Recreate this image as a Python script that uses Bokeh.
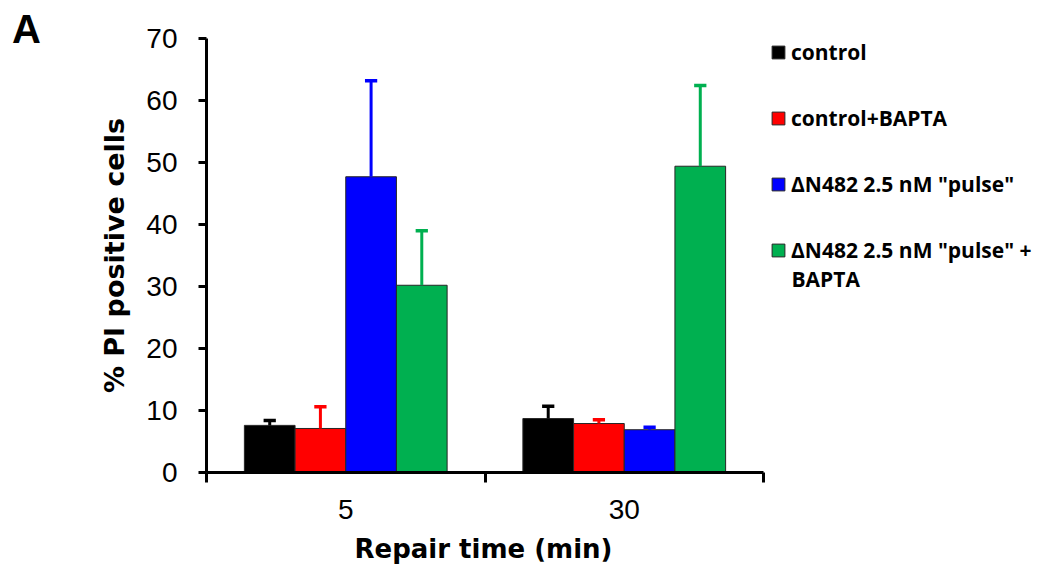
from bokeh.plotting import figure
from bokeh.layouts import row
from bokeh.models import (ColumnDataSource, FixedTicker, Legend, LegendItem,
                          Range1d, Div, Title, Label)
from bokeh.embed import file_html
from bokeh.resources import INLINE

# Repair time categories (minutes)
repair_times = ["5", "30"]

# Series names (legend lines), colours and values (% PI positive cells, mean and SD)
series_names = ["control", "control+BAPTA", 'ΔN482 2.5 nM "pulse"',
                'ΔN482 2.5 nM "pulse" +']
last_name_wrap = "BAPTA"
series_colors = ["#000000", "#FF0000", "#0000FF", "#00B050"]

control = [7.6, 8.7]
control_err = [0.8, 2.0]
control_bapta = [7.1, 7.9]
control_bapta_err = [3.5, 0.6]
pulse = [47.7, 6.9]
pulse_err = [15.5, 0.4]
pulse_bapta = [30.2, 49.4]
pulse_bapta_err = [8.8, 13.0]

y_ticks = [0, 10, 20, 30, 40, 50, 60, 70]

series_values = [control, control_bapta, pulse, pulse_bapta]
series_errors = [control_err, control_bapta_err, pulse_err, pulse_bapta_err]

BAR_W = 0.182
CAP_W = 0.044
PANEL_W = 40            # width of the strip holding the panel letter
FIG_W = 1059 - PANEL_W
BORDER_L = 206 - PANEL_W
AXIS_PX = 557           # pixel length of the two category slots
# the frame runs to the right edge so the legend sits inside it;
# the x axis itself is bounded to the two categories
X_END = 2 * (FIG_W - BORDER_L) / AXIS_PX

LEGEND_FONT = dict(text_font="Open Sans", text_font_style="bold",
                   text_font_size="21px", text_color="black")

p = figure(width=FIG_W, height=576, x_range=Range1d(0, X_END),
           y_range=Range1d(0, 70),
           output_backend="svg", toolbar_location=None,
           min_border_left=BORDER_L, min_border_right=0,
           min_border_top=38, min_border_bottom=104)
p.outline_line_color = None
p.xgrid.visible = False
p.ygrid.visible = False
p.background_fill_color = "white"
p.border_fill_color = "white"

legend_items = []
for i, (name, color, vals, errs) in enumerate(zip(series_names, series_colors,
                                                   series_values, series_errors)):
    xs = [k + 0.5 + (i - 1.5) * BAR_W for k in range(len(repair_times))]
    tops = [v + e for v, e in zip(vals, errs)]
    src = ColumnDataSource(dict(x=xs, top=vals, err_top=tops,
                                cl=[x - CAP_W / 2 for x in xs],
                                cr=[x + CAP_W / 2 for x in xs]))
    r = p.vbar(x="x", top="top", width=BAR_W, source=src, fill_color=color,
               line_color="#262626", line_width=1)
    p.segment(x0="x", y0="top", x1="x", y1="err_top", source=src,
              line_color=color, line_width=3)
    p.segment(x0="cl", y0="err_top", x1="cr", y1="err_top", source=src,
              line_color=color, line_width=3.5)
    legend_items.append(LegendItem(label=name, renderers=[r]))

# y axis
ya = p.yaxis[0]
ya.ticker = FixedTicker(ticks=y_ticks)
ya.minor_tick_line_color = None
ya.major_tick_out = 8
ya.major_tick_in = 0
ya.major_tick_line_width = 3
ya.axis_line_width = 3
ya.major_label_text_font = "Liberation Sans"
ya.major_label_text_font_size = "28px"
ya.major_label_text_color = "black"
ya.major_label_standoff = 21
ya.axis_label = "% PI positive cells"
ya.axis_label_text_font = "DejaVu Sans"
ya.axis_label_text_font_style = "bold"
ya.axis_label_text_font_size = "27px"
ya.axis_label_text_color = "black"
ya.axis_label_standoff = 13

# x axis: labels at group centres, ticks at group boundaries
xa = p.xaxis[0]
xa.bounds = (0, 2)
xa.ticker = FixedTicker(ticks=[0.5, 1.5], minor_ticks=[0, 1, 2])
xa.major_label_overrides = {0.5: repair_times[0], 1.5: repair_times[1]}
xa.major_tick_in = 0
xa.major_tick_out = 0
xa.major_tick_line_color = None
xa.minor_tick_in = 0
xa.minor_tick_out = 10
xa.minor_tick_line_width = 3
xa.minor_tick_line_color = "black"
xa.axis_line_width = 3
xa.major_label_text_font = "Liberation Sans"
xa.major_label_text_font_size = "28px"
xa.major_label_text_color = "black"
xa.major_label_standoff = 17

# x axis title, left-aligned under the bounded axis
x_title = Title(text="Repair  time (min)", align="left", offset=148,
                text_font="DejaVu Sans", text_font_style="bold",
                text_font_size="26px", text_color="black", standoff=21)
p.add_layout(x_title, "below")

legend = Legend(items=legend_items, location=(564, 208),
                label_text_font=LEGEND_FONT["text_font"],
                label_text_font_style=LEGEND_FONT["text_font_style"],
                label_text_font_size=LEGEND_FONT["text_font_size"],
                label_text_color=LEGEND_FONT["text_color"],
                glyph_width=16, glyph_height=16, label_standoff=5,
                spacing=38, padding=0, margin=0,
                border_line_color=None, background_fill_alpha=0)
p.add_layout(legend, "center")

# second line of the last legend entry
wrap_line = Label(x=585, y=194, x_units="screen", y_units="screen",
                  text=last_name_wrap, text_baseline="middle", **LEGEND_FONT)
p.add_layout(wrap_line)

panel_tag = Div(text='<div style="font: bold 40px \'Liberation Sans\'; '
                     'line-height: 40px; margin: 9px 0 0 12px;">A</div>',
                width=PANEL_W, height=576, margin=(0, 0, 0, 0))

layout = row(panel_tag, p)
open("out.html", "w").write(file_html(layout, INLINE))
